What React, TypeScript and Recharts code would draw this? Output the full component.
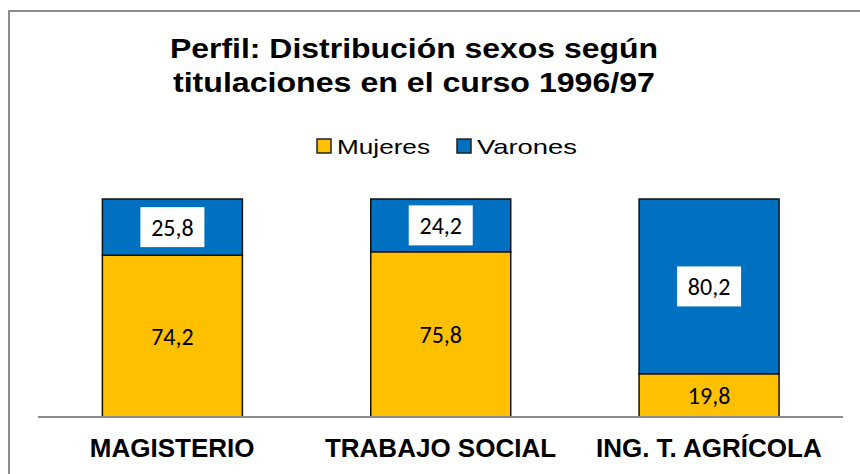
import * as React from "react";
import { BarChart, Bar, XAxis, YAxis, LabelList } from "recharts";

const categories = ["MAGISTERIO", "TRABAJO SOCIAL", "ING. T. AGRÍCOLA"];
const mujeres = [74.2, 75.8, 19.8];
const varones = [25.8, 24.2, 80.2];
const seriesNames = ["Mujeres", "Varones"];
const titleLines = ["Perfil: Distribución sexos según", "titulaciones en el curso 1996/97"];

const YELLOW = "#FFC000";
const BLUE = "#0070C0";
const seriesColors = [YELLOW, BLUE];

const data = categories.map((name, i) => ({
  name,
  Mujeres: mujeres[i],
  Varones: varones[i],
}));

const fmt = (v: number) => v.toFixed(1).replace(".", ",");

const labelFont = "Calibri, Carlito, Lato, sans-serif";
const arial = "'Liberation Sans', Arial, sans-serif";

const PlainLabel = (props: any) => {
  const { x, y, width, height, value } = props;
  return (
    <text
      x={x + width / 2}
      y={y + height / 2}
      textAnchor="middle"
      dominantBaseline="central"
      fontFamily={labelFont}
      fontSize={24}
      fill="#000"
    >
      {fmt(value)}
    </text>
  );
};

const BoxedLabel = (props: any) => {
  const { x, y, width, height, value } = props;
  const cx = x + width / 2;
  const cy = y + height / 2;
  return (
    <g>
      <rect x={cx - 32} y={cy - 20} width={64} height={40} fill="#fff" />
      <text
        x={cx}
        y={cy}
        textAnchor="middle"
        dominantBaseline="central"
        fontFamily={labelFont}
        fontSize={24}
        fill="#000"
      >
        {fmt(value)}
      </text>
    </g>
  );
};

const CategoryTick = (props: any) => {
  const { x, y, payload } = props;
  return (
    <text
      x={x}
      y={y + 32}
      textAnchor="middle"
      fontFamily={arial}
      fontWeight="bold"
      fontSize={26}
      fill="#000"
    >
      {payload.value}
    </text>
  );
};

// legend item positions (box x, text x, text length)
const legendPos = [
  { box: 317, text: 337, len: 93 },
  { box: 457, text: 477, len: 100 },
];

export default function App() {
  return (
    <div
      style={{
        position: "absolute",
        left: 0,
        top: 0,
        width: 860,
        height: 474,
        background: "#fff",
        overflow: "hidden",
      }}
    >
      <div
        style={{
          position: "absolute",
          left: 8,
          top: 10,
          width: 900,
          height: 500,
          borderLeft: "2px solid #8c8c8c",
          borderTop: "2px solid #8c8c8c",
        }}
      />
      <svg
        width={860}
        height={180}
        style={{ position: "absolute", left: 0, top: 0 }}
      >
        {titleLines.map((line, i) => (
          <text
            key={i}
            x={414}
            y={58 + i * 34}
            textAnchor="middle"
            fontFamily={arial}
            fontWeight="bold"
            fontSize={28}
            textLength={488 - i * 6}
            lengthAdjust="spacingAndGlyphs"
            fill="#000"
          >
            {line}
          </text>
        ))}
        {seriesNames.map((name, i) => (
          <g key={name}>
            <rect
              x={legendPos[i].box}
              y={139}
              width={14}
              height={14}
              fill={seriesColors[i]}
              stroke="#222"
              strokeWidth={1.5}
            />
            <text
              x={legendPos[i].text}
              y={154}
              fontFamily={arial}
              fontSize={21}
              textLength={legendPos[i].len}
              lengthAdjust="spacingAndGlyphs"
              fill="#000"
            >
              {name}
            </text>
          </g>
        ))}
      </svg>
      <div style={{ position: "absolute", left: 0, top: 0 }}>
        <BarChart
          width={860}
          height={474}
          data={data}
          margin={{ top: 199, right: 17, bottom: 27, left: 38 }}
          barCategoryGap="24%"
        >
          <XAxis
            dataKey="name"
            height={30}
            axisLine={{ stroke: "#8c8c8c", strokeWidth: 2 }}
            tickLine={false}
            tick={<CategoryTick />}
            interval={0}
          />
          <YAxis hide domain={[0, 100]} />
          <Bar
            dataKey="Mujeres"
            stackId="a"
            fill={YELLOW}
            stroke="#111"
            strokeWidth={1.5}
            isAnimationActive={false}
          >
            <LabelList dataKey="Mujeres" content={<PlainLabel />} />
          </Bar>
          <Bar
            dataKey="Varones"
            stackId="a"
            fill={BLUE}
            stroke="#111"
            strokeWidth={1.5}
            isAnimationActive={false}
          >
            <LabelList dataKey="Varones" content={<BoxedLabel />} />
          </Bar>
        </BarChart>
      </div>
    </div>
  );
}
